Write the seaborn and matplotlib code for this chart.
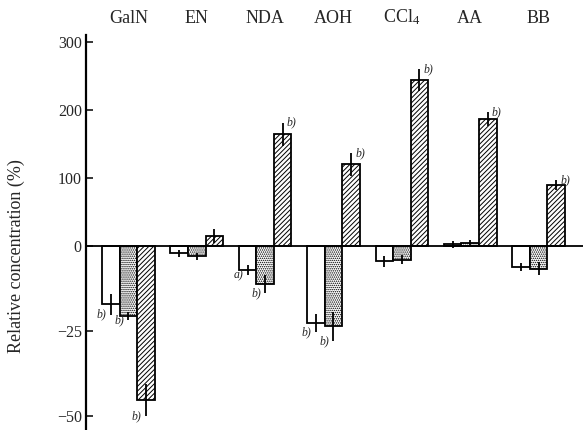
import numpy as np
import pandas as pd
import matplotlib
matplotlib.use('Agg')
import matplotlib.pyplot as plt
import seaborn as sns

# agents across the top, three treatment groups per agent
categories = ['GalN', 'EN', 'NDA', 'AOH', 'CCl$_4$', 'AA', 'BB']
groups = ['I', 'II', 'III']

white_vals = [-17.1, -2.1, -7.0, -22.5, -4.5, 3.4, -6.2]
dotted_vals = [-20.5, -3.0, -11.2, -23.6, -4.0, 5.0, -6.6]
hatched_vals = [-45.2, 15, 164.5, 120, 243.6, 187, 90]

white_err = [3.0, 1.0, 1.5, 2.7, 1.5, 4, 1.2]
dotted_err = [1.3, 1.0, 2.7, 4.4, 1.3, 4, 2.0]
hatched_err = [4.8, 10, 17, 17, 16, 10, 7]

# significance marks per bar
white_sig = ['b)', '', 'a)', 'b)', '', '', '']
dotted_sig = ['b)', '', 'b)', 'b)', '', '', '']
hatched_sig = ['b)', '', 'b)', 'b)', 'b)', 'b)', 'b)']

ytick_vals = [-50, -25, 0, 100, 200, 300]
ytick_labels = ['\u221250', '\u221225', '0', '100', '200', '300']

sns.set_style('ticks')
plt.rcParams['font.family'] = ['Liberation Serif', 'DejaVu Serif']
plt.rcParams['mathtext.fontset'] = 'custom'
plt.rcParams['mathtext.rm'] = 'Liberation Serif'
plt.rcParams['mathtext.it'] = 'Liberation Serif:italic'
plt.rcParams['hatch.linewidth'] = 0.7
plt.rcParams['hatch.color'] = 'black'

df = pd.DataFrame({
    'agent': categories * 3,
    'group': [g for g in groups for _ in categories],
    'value': white_vals + dotted_vals + hatched_vals,
})

fig = plt.figure(figsize=(5.85, 4.30), dpi=100)
ax = fig.add_axes([86 / 585, 0.0, (583 - 86) / 585, 395 / 430])

sns.barplot(data=df, x='agent', y='value', hue='group', order=categories,
            hue_order=groups, palette=['white'] * 3, edgecolor='black',
            linewidth=1.3, width=0.77, errorbar=None, legend=False,
            saturation=1, ax=ax)

hatches = ['', '........', '///////']
vals = [white_vals, dotted_vals, hatched_vals]
errs = [white_err, dotted_err, hatched_err]
sigs = [white_sig, dotted_sig, hatched_sig]

for cont, hatch, v, e, s in zip(ax.containers, hatches, vals, errs, sigs):
    for bar, y, err, mark in zip(cont, v, e, s):
        bar.set_hatch(hatch)
        x = bar.get_x() + bar.get_width() / 2
        ax.errorbar(x, y, yerr=err, fmt='none', ecolor='black',
                    elinewidth=1.3, capsize=0, zorder=5)
        if mark:
            if y >= 0:
                ax.annotate(mark, xy=(x, y + err), xytext=(3, 0),
                            textcoords='offset points', ha='left', va='center',
                            fontstyle='italic', fontsize=8.5)
            else:
                ax.annotate(mark, xy=(x, y - err), xytext=(-3, 0),
                            textcoords='offset points', ha='right', va='center',
                            fontstyle='italic', fontsize=8.5)

ax.axhline(0, color='black', lw=1.3, zorder=4)


# broken scale: the negative side is stretched five times
def fwd(y):
    y = np.asarray(y, dtype=float)
    return np.where(y >= 0, y, 5 * y)


def inv(y):
    y = np.asarray(y, dtype=float)
    return np.where(y >= 0, y, y / 5)


ax.set_yscale('function', functions=(fwd, inv))
ax.set_ylim(-54, 310)
ax.set_xlim(-0.62, 6.65)
ax.set_yticks(ytick_vals)
ax.set_yticklabels(ytick_labels)
ax.yaxis.set_minor_locator(matplotlib.ticker.NullLocator())

ax.xaxis.tick_top()
ax.tick_params(axis='x', length=0, labelsize=13, pad=6)
ax.tick_params(axis='y', direction='in', length=5, width=1.3, labelsize=11.5, pad=3)
ax.set_xlabel('')
ax.set_ylabel('Relative concentration (%)', fontsize=13)
ax.yaxis.set_label_coords(-0.123, 0.44)

for side in ['top', 'right', 'bottom']:
    ax.spines[side].set_visible(False)
ax.spines['left'].set_linewidth(1.6)
ax.spines['left'].set_color('black')

fig.savefig('out.png', dpi=100)
